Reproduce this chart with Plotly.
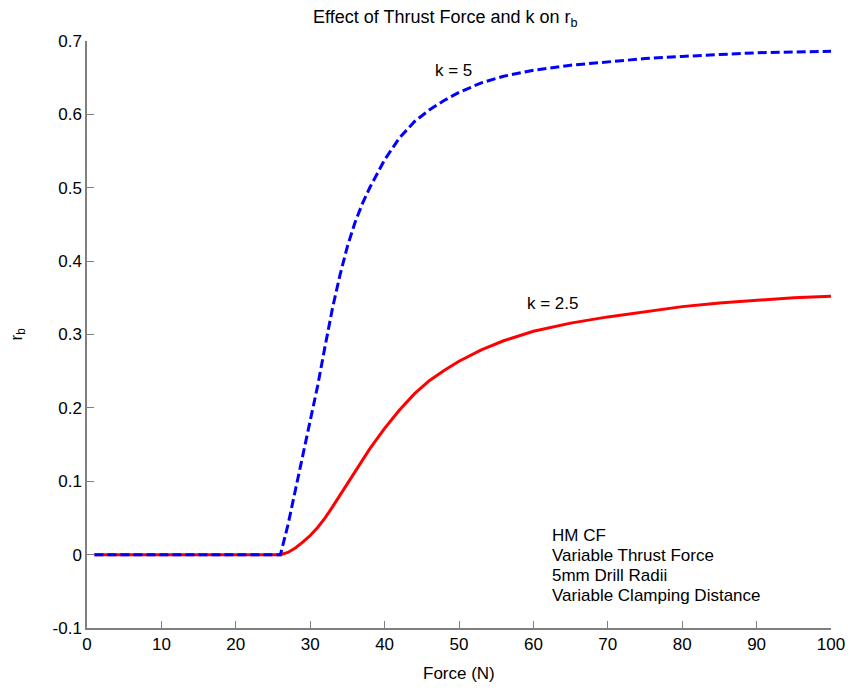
import plotly.graph_objects as go

force = [1, 26, 27, 28, 29, 30, 31, 32, 33, 34, 35, 36, 37, 38, 40, 42, 44, 46, 48,
         50, 53, 56, 60, 65, 70, 75, 80, 85, 90, 95, 100]
rb_k5 = [0, 0, 0.040, 0.087, 0.132, 0.179, 0.230, 0.284, 0.336, 0.381, 0.420, 0.452,
         0.478, 0.500, 0.538, 0.568, 0.590, 0.606, 0.619, 0.630, 0.643, 0.652, 0.660,
         0.667, 0.672, 0.676, 0.679, 0.682, 0.684, 0.685, 0.686]
rb_k25 = [0, 0, 0.003, 0.009, 0.017, 0.026, 0.037, 0.050, 0.065, 0.081, 0.097, 0.113,
          0.129, 0.144, 0.172, 0.197, 0.219, 0.237, 0.251, 0.2635, 0.279, 0.2915, 0.3045,
          0.3155, 0.324, 0.331, 0.338, 0.343, 0.347, 0.350, 0.352]

x_ticks = [0, 10, 20, 30, 40, 50, 60, 70, 80, 90, 100]
y_ticks = [-0.1, 0, 0.1, 0.2, 0.3, 0.4, 0.5, 0.6, 0.7]
y_tick_text = ["-0.1", "0", "0.1", "0.2", "0.3", "0.4", "0.5", "0.6", "0.7"]
info_lines = ["HM CF", "Variable Thrust Force", "5mm Drill Radii", "Variable Clamping Distance"]

FONT = "Liberation Sans, Arial, sans-serif"
FS = 17

fig = go.Figure()
fig.add_trace(go.Scatter(x=force, y=rb_k25, mode="lines",
                         line=dict(color="#ff0000", width=3)))
fig.add_trace(go.Scatter(x=force, y=rb_k5, mode="lines",
                         line=dict(color="#0000ff", width=3, dash="9px,4px")))

axis_common = dict(showline=True, linecolor="#7f7f7f", linewidth=1.5, ticks="inside",
                   ticklen=7, tickcolor="#7f7f7f", tickwidth=1, showgrid=False,
                   zeroline=False, mirror=False, automargin=False,
                   tickfont=dict(family=FONT, size=FS, color="black"))

fig.update_xaxes(range=[0, 100], tickvals=x_ticks, **axis_common)
fig.update_yaxes(range=[-0.1, 0.7], tickvals=y_ticks, ticktext=y_tick_text, **axis_common)

annotations = [
    dict(text="Effect of Thrust Force and k on r<sub>b</sub>", xref="paper", yref="paper",
         x=0.481, y=1.0, yshift=23, showarrow=False, xanchor="center", yanchor="middle",
         font=dict(family=FONT, size=18, color="black")),
    dict(text="Force (N)", xref="paper", yref="paper", x=0.5, y=0, yshift=-45,
         showarrow=False, xanchor="center", yanchor="middle",
         font=dict(family=FONT, size=FS, color="black")),
    dict(text="r<sub>b</sub>", xref="paper", yref="paper", x=0, xshift=-70, y=0.5,
         showarrow=False, textangle=-90, xanchor="center", yanchor="middle",
         font=dict(family=FONT, size=FS, color="black")),
    dict(text="k = 5", x=49.2, y=0.66, showarrow=False, xanchor="center", yanchor="middle",
         font=dict(family=FONT, size=FS, color="black")),
    dict(text="k = 2.5", x=62.7, y=0.342, showarrow=False, xanchor="center", yanchor="middle",
         font=dict(family=FONT, size=FS, color="black")),
]
for i, line in enumerate(info_lines):
    annotations.append(dict(text=line, x=62.2, y=0.0263 - i * 0.02726, showarrow=False,
                            xanchor="left", yanchor="middle", align="left",
                            font=dict(family=FONT, size=FS, color="black")))

fig.update_layout(
    width=851, height=690, autosize=False,
    margin=dict(l=87, r=20, t=41, b=62),
    plot_bgcolor="white", paper_bgcolor="white",
    showlegend=False, annotations=annotations,
    font=dict(family=FONT, size=FS, color="black"),
)

fig.write_html("out.html")
